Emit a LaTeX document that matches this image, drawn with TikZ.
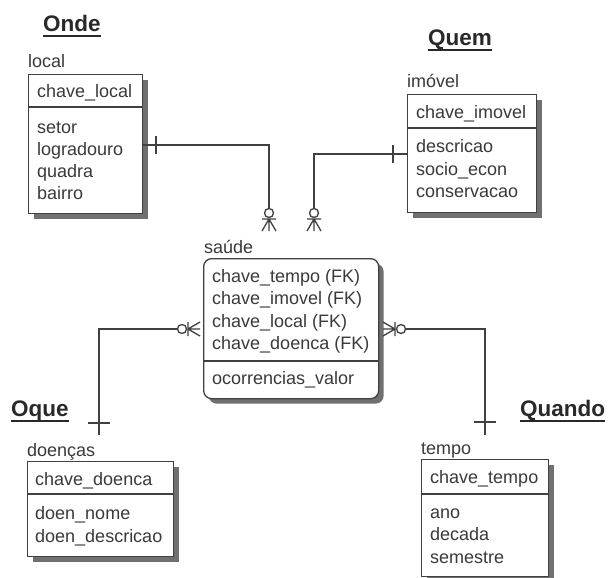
\documentclass[tikz,border=0pt]{standalone}
\usepackage{fontspec}
\setmainfont{Liberation Sans}
\usetikzlibrary{shadows,calc}
\definecolor{ink}{HTML}{3A3A3A}
\definecolor{edge}{HTML}{404040}
\definecolor{shade}{HTML}{707070}
\begin{document}
\begin{tikzpicture}[x=1pt,y=-1pt,
  ent/.style={draw=edge, line width=1.3pt, fill=white, anchor=north west, inner sep=0pt,
    drop shadow={shadow xshift=5pt, shadow yshift=-5pt, fill=shade, opacity=1}},
  txt/.style={anchor=base west, inner sep=0pt, text=ink, font=\fontsize{18}{21}\selectfont},
  ttl/.style={anchor=base west, inner sep=0pt, text=ink!70!black, font=\fontsize{22.5}{26}\selectfont\bfseries},
  uline/.style={line width=2pt, draw=ink!70!black},
  rel/.style={draw=edge, line width=1.3pt},
  zmany/.pic={
    \draw[rel] (-12,0) -- (0,-7) (-12,0) -- (0,0) (-12,0) -- (0,7) (-12,-7) -- (-12,7);
    \draw[rel, fill=white] (-18,0) circle[radius=4.5];
  },
]
\useasboundingbox[fill=white] (0,0) rectangle (608,578);

% titles
\node[ttl] (onde) at (43,31.5) {Onde};
\node[ttl] (quem) at (428,46) {Quem};
\node[ttl] (oque) at (11,416) {Oque};
\node[ttl] (quando) at (520,416) {Quando};
\foreach \t in {onde,quem,oque,quando}
  \draw[uline] ($(\t.base west)+(0,4.5)$) -- ($(\t.base east)+(0,4.5)$);

% entity boxes
\node[ent, minimum width=114pt, minimum height=139pt] (local) at (28,74) {};
\node[ent, minimum width=129pt, minimum height=118pt] (imovel) at (407,94) {};
\node[ent, rounded corners=8pt, minimum width=175pt, minimum height=140pt] (saude) at (203,258) {};
\node[ent, minimum width=146pt, minimum height=95pt] (doencas) at (27,461) {};
\node[ent, minimum width=127pt, minimum height=117pt] (tempo) at (421,459) {};

% separators
\draw[rel] ($(local.north west)+(0,33)$) -- ($(local.north east)+(0,33)$);
\draw[rel] ($(imovel.north west)+(0,34)$) -- ($(imovel.north east)+(0,34)$);
\draw[rel] ($(saude.north west)+(0,103)$) -- ($(saude.north east)+(0,103)$);
\draw[rel] ($(doencas.north west)+(0,33)$) -- ($(doencas.north east)+(0,33)$);
\draw[rel] ($(tempo.north west)+(0,35)$) -- ($(tempo.north east)+(0,35)$);

% entity names
\node[txt] (localname) at (28,68) {local};
\node[txt] (imovelname) at (407,88) {imóvel};
\node[txt] (saudename) at (204,253) {saúde};
\node[txt] (doencasname) at (27,456) {doenças};
\node[txt] (temponame) at (421,454) {tempo};

% local
\node[txt] (l0) at (37,97) {chave\_local};
\node[txt] (l1) at (37,133) {setor};
\node[txt] (l2) at (37,155) {logradouro};
\node[txt] (l3) at (37,177) {quadra};
\node[txt] (l4) at (37,199) {bairro};
% imovel
\node[txt] (i0) at (416,118) {chave\_imovel};
\node[txt] (i1) at (416,152) {descricao};
\node[txt] (i2) at (416,175) {socio\_econ};
\node[txt] (i3) at (416,197) {conservacao};
% saude
\node[txt] (s0) at (212,282) {chave\_tempo (FK)};
\node[txt] (s1) at (212,304) {chave\_imovel (FK)};
\node[txt] (s2) at (212,327) {chave\_local (FK)};
\node[txt] (s3) at (212,349) {chave\_doenca (FK)};
\node[txt] (s4) at (212,384) {ocorrencias\_valor};
% doencas
\node[txt] (d0) at (35,485) {chave\_doenca};
\node[txt] (d1) at (35,519) {doen\_nome};
\node[txt] (d2) at (35,542) {doen\_descricao};
% tempo
\node[txt] (t0) at (430,483) {chave\_tempo};
\node[txt] (t1) at (430,518) {ano};
\node[txt] (t2) at (430,540) {decada};
\node[txt] (t3) at (430,563) {semestre};

% relationship ends
\coordinate (fa) at (269,231);
\coordinate (fb) at (314,231);
\coordinate (fc) at (200,329);
\coordinate (fd) at (383,329);
\coordinate (dc) at (99,435);
\coordinate (tc) at (485,435);

% local -> saude
\draw[rel] ($(local.north east)+(0,71)$) -| ($(fa)+(0,-22.5)$);
\draw[rel] (156,136) -- (156,154);
\pic[rotate=-90] at (fa) {zmany};
% imovel -> saude
\draw[rel] ($(imovel.north west)+(0,60)$) -| ($(fb)+(0,-22.5)$);
\draw[rel] (393,145) -- (393,163);
\pic[rotate=-90] at (fb) {zmany};
% doencas -> saude
\draw[rel] (dc) |- ($(fc)+(-22.5,0)$);
\draw[rel] (88,423) -- (110,423);
\pic at (fc) {zmany};
% tempo -> saude
\draw[rel] (tc) |- ($(fd)+(22.5,0)$);
\draw[rel] (474,422) -- (496,422);
\pic[rotate=180] at (fd) {zmany};
\end{tikzpicture}
\end{document}
